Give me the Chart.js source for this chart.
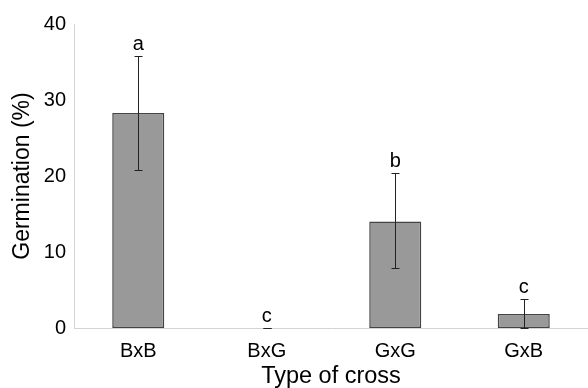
<!DOCTYPE html>
<html>
<head>
<meta charset="utf-8">
<script src="https://cdn.jsdelivr.net/npm/chart.js@4"></script>
<style>
  body { margin: 0; background: #fff; }
</style>
</head>
<body>
<canvas id="germChart" width="588" height="388"></canvas>
<script>
// veriler
const categories = ['BxB', 'BxG', 'GxG', 'GxB'];
const germination = [28.3, 0, 14.0, 1.85];
const errUpper = [35.8, 0, 20.4, 3.8];
const errLower = [20.8, 0, 7.9, 0];
const letters = ['a', 'c', 'b', 'c'];

const fontFamily = '"Liberation Sans", Arial, sans-serif';

// hata çubukları ve harfler
const errorBarPlugin = {
    id: 'errorBars',
    afterDatasetsDraw(chart) {
        const ctx = chart.ctx;
        const yScale = chart.scales.y;
        const meta = chart.getDatasetMeta(0);
        ctx.save();
        ctx.strokeStyle = '#222';
        ctx.lineWidth = 1;
        meta.data.forEach((bar, i) => {
            const x = Math.round(bar.x) + 0.5;
            const yTop = Math.round(yScale.getPixelForValue(errUpper[i])) + 0.5;
            const yBot = Math.round(yScale.getPixelForValue(errLower[i])) + 0.5;
            ctx.beginPath();
            ctx.moveTo(x, yTop);
            ctx.lineTo(x, yBot);
            ctx.moveTo(x - 4, yTop);
            ctx.lineTo(x + 4, yTop);
            ctx.moveTo(x - 4, yBot);
            ctx.lineTo(x + 4, yBot);
            ctx.stroke();

            ctx.fillStyle = '#000';
            ctx.font = '20px ' + fontFamily;
            ctx.textAlign = 'center';
            ctx.textBaseline = 'middle';
            ctx.fillText(letters[i], bar.x, yTop - 12);
        });
        ctx.restore();
    }
};

const ctx = document.getElementById('germChart').getContext('2d');
new Chart(ctx, {
    type: 'bar',
    data: {
        labels: categories,
        datasets: [{
            data: germination,
            backgroundColor: '#999999',
            borderColor: '#444444',
            borderWidth: 1.5,
            borderSkipped: false,
            categoryPercentage: 1,
            barPercentage: 0.405
        }]
    },
    options: {
        responsive: false,
        animation: false,
        layout: { padding: { top: 24, right: 0, left: 0, bottom: 0 } },
        plugins: {
            legend: { display: false },
            tooltip: { enabled: false }
        },
        scales: {
            x: {
                grid: { display: false, drawTicks: false },
                border: { color: '#d4d4d4', width: 1 },
                ticks: {
                    color: '#000',
                    padding: 11,
                    font: { family: fontFamily, size: 20 }
                },
                title: {
                    display: true,
                    text: 'Type of cross',
                    color: '#000',
                    padding: 0,
                    font: { family: fontFamily, size: 23.5, lineHeight: 1 }
                },
                afterFit(scale) { scale.height = 60; }
            },
            y: {
                min: 0,
                max: 40,
                grid: { display: false, drawTicks: false },
                border: { color: '#d4d4d4', width: 1 },
                ticks: {
                    stepSize: 10,
                    color: '#000',
                    padding: 8,
                    font: { family: fontFamily, size: 20 }
                },
                title: {
                    display: true,
                    text: 'Germination (%)',
                    color: '#000',
                    padding: { top: 11, bottom: 0 },
                    font: { family: fontFamily, size: 23, lineHeight: 1 }
                },
                afterFit(scale) { scale.width = 74; }
            }
        }
    },
    plugins: [errorBarPlugin]
});
</script>
</body>
</html>
